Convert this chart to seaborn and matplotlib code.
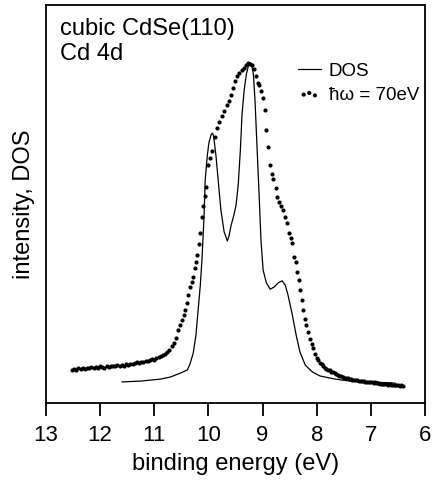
import matplotlib
matplotlib.use("Agg")
import numpy as np
import pandas as pd
import matplotlib.pyplot as plt
import seaborn as sns

# calculated density of states (solid line)
dos_energy = [11.60, 11.26, 10.89, 10.71, 10.52, 10.39, 10.34, 10.28, 10.23, 10.19,
              10.15, 10.12, 10.08, 10.06, 10.02, 9.99, 9.95, 9.93, 9.91, 9.89, 9.86, 9.82,
              9.77, 9.71, 9.65, 9.62, 9.58, 9.53, 9.49, 9.45, 9.41, 9.38,
              9.34, 9.30, 9.26, 9.23, 9.20, 9.17, 9.14, 9.10, 9.06, 9.03,
              8.99, 8.93, 8.86, 8.79, 8.71, 8.64, 8.58, 8.53, 8.45, 8.38,
              8.31, 8.21, 8.08, 7.94, 7.66, 7.38, 7.01, 6.55]
dos_value = [0.053, 0.055, 0.060, 0.065, 0.075, 0.083, 0.098, 0.126, 0.171, 0.234,
             0.296, 0.359, 0.472, 0.560, 0.623, 0.655, 0.674, 0.678, 0.674, 0.655, 0.620, 0.560,
             0.485, 0.430, 0.407, 0.420, 0.447, 0.472, 0.497, 0.548, 0.636, 0.724,
             0.786, 0.826, 0.848, 0.855, 0.848, 0.826, 0.761, 0.636, 0.510, 0.410,
             0.334, 0.302, 0.286, 0.291, 0.302, 0.307, 0.296, 0.271, 0.221, 0.171,
             0.128, 0.095, 0.078, 0.068, 0.060, 0.055, 0.053, 0.050]

# photoemission at 70 eV (dots): dense low-energy tail, peak region, dense high-energy tail
exp_left_energy = [12.52, 12.48, 12.44, 12.40, 12.36, 12.32, 12.28, 12.24, 12.20, 12.16,
                   12.12, 12.08, 12.04, 12.00, 11.96, 11.92, 11.88, 11.84, 11.80, 11.76,
                   11.72, 11.68, 11.64, 11.60, 11.56, 11.52, 11.48, 11.44, 11.40, 11.36,
                   11.32, 11.28, 11.24, 11.20, 11.16, 11.12, 11.08, 11.04, 11.00, 10.96,
                   10.92, 10.88, 10.84, 10.80, 10.76, 10.72, 10.68, 10.64, 10.60]
exp_left_value = [0.083, 0.086, 0.084, 0.087, 0.085, 0.088, 0.086, 0.089, 0.087, 0.090,
                  0.088, 0.091, 0.089, 0.092, 0.090, 0.089, 0.092, 0.091, 0.094, 0.092,
                  0.093, 0.095, 0.093, 0.096, 0.094, 0.097, 0.096, 0.099, 0.097, 0.100,
                  0.102, 0.100, 0.104, 0.103, 0.106, 0.105, 0.108, 0.110, 0.109, 0.113,
                  0.115, 0.118, 0.121, 0.124, 0.128, 0.134, 0.142, 0.152, 0.164]

exp_peak_energy = [10.56, 10.52, 10.49, 10.46, 10.43, 10.40, 10.37, 10.34, 10.31, 10.28,
                   10.25, 10.23, 10.21, 10.18, 10.15, 10.12, 10.10, 10.07, 10.04, 10.01,
                   9.97, 9.93, 9.88, 9.84, 9.80, 9.75, 9.71, 9.66, 9.62, 9.58,
                   9.55, 9.51, 9.47, 9.43, 9.38, 9.34, 9.30, 9.26, 9.23, 9.19,
                   9.16, 9.12, 9.08, 9.06, 9.03, 8.99, 8.96, 8.93, 8.90, 8.86,
                   8.83, 8.80, 8.76, 8.73, 8.70, 8.66, 8.62, 8.58, 8.55, 8.51,
                   8.48, 8.45, 8.42, 8.39, 8.36, 8.33, 8.30, 8.27, 8.25, 8.22,
                   8.19, 8.16, 8.12, 8.09, 8.06]
exp_peak_value = [0.183, 0.196, 0.209, 0.222, 0.234, 0.252, 0.272, 0.291, 0.305, 0.317,
                  0.339, 0.355, 0.372, 0.400, 0.427, 0.467, 0.495, 0.520, 0.543, 0.598,
                  0.615, 0.633, 0.668, 0.690, 0.706, 0.722, 0.734, 0.748, 0.759, 0.775,
                  0.792, 0.808, 0.822, 0.830, 0.837, 0.842, 0.849, 0.855, 0.852, 0.848,
                  0.838, 0.822, 0.805, 0.798, 0.785, 0.766, 0.735, 0.686, 0.643, 0.598,
                  0.575, 0.563, 0.540, 0.518, 0.505, 0.495, 0.485, 0.467, 0.452, 0.427,
                  0.415, 0.402, 0.367, 0.354, 0.330, 0.310, 0.284, 0.258, 0.234, 0.212,
                  0.195, 0.178, 0.160, 0.148, 0.138]

exp_right_energy = [8.03, 8.00, 7.97, 7.94, 7.91, 7.88, 7.85, 7.82, 7.79, 7.76,
                    7.73, 7.70, 7.67, 7.64, 7.61, 7.58, 7.55, 7.52, 7.49, 7.46,
                    7.43, 7.40, 7.37, 7.34, 7.31, 7.28, 7.25, 7.22, 7.19, 7.16,
                    7.13, 7.10, 7.07, 7.04, 7.01, 6.98, 6.95, 6.92, 6.89, 6.86,
                    6.83, 6.80, 6.77, 6.74, 6.71, 6.68, 6.65, 6.62, 6.59, 6.56,
                    6.53, 6.50, 6.47, 6.44, 6.41]
exp_right_value = [0.122, 0.113, 0.107, 0.101, 0.097, 0.093, 0.089, 0.086, 0.084, 0.082,
                   0.079, 0.077, 0.075, 0.072, 0.070, 0.068, 0.067, 0.065, 0.064, 0.062,
                   0.062, 0.060, 0.060, 0.058, 0.058, 0.057, 0.057, 0.056, 0.056, 0.055,
                   0.056, 0.054, 0.054, 0.053, 0.053, 0.052, 0.051, 0.052, 0.050, 0.050,
                   0.049, 0.049, 0.048, 0.047, 0.048, 0.046, 0.047, 0.045, 0.046, 0.044,
                   0.045, 0.044, 0.043, 0.044, 0.043]

energy_ticks = [13, 12, 11, 10, 9, 8, 7, 6]

sns.set_style("ticks")
plt.rcParams['font.family'] = ['Liberation Sans', 'DejaVu Sans']
plt.rcParams['text.color'] = 'black'
plt.rcParams['axes.labelcolor'] = 'black'

dos_df = pd.DataFrame({'energy': dos_energy, 'value': dos_value})
exp_df = pd.DataFrame({
    'energy': exp_left_energy + exp_peak_energy + exp_right_energy,
    'value': exp_left_value + exp_peak_value + exp_right_value,
})

fig = plt.figure(figsize=(4.32, 4.8), dpi=100)
ax = fig.add_axes([0.1065, 0.1604, 0.8773, 0.8292])

sns.lineplot(data=dos_df, x='energy', y='value', sort=False, color='black',
             linewidth=0.9, label='DOS', ax=ax)
sns.scatterplot(data=exp_df, x='energy', y='value', color='black', s=9,
                linewidth=0, label='\u0127\u03c9 = 70eV', ax=ax)

ax.set_xlim(13, 6)
ax.set_ylim(0, 1)
ax.set_xticks(energy_ticks)
ax.set_yticks([])
ax.set_xlabel("binding energy (eV)", fontsize=17, labelpad=5, color='black')
ax.set_ylabel("intensity, DOS", fontsize=17, labelpad=8, color='black')
ax.tick_params(axis='x', direction='out', length=9, width=1.3, labelsize=16, pad=7,
               colors='black', labelcolor='black')
for side in ['left', 'right', 'top', 'bottom']:
    ax.spines[side].set_visible(True)
    ax.spines[side].set_linewidth(1.3)
    ax.spines[side].set_color('black')

ax.text(0.037, 0.925, "cubic CdSe(110)", transform=ax.transAxes, fontsize=17,
        va='baseline', color='black')
ax.text(0.037, 0.862, "Cd 4d", transform=ax.transAxes, fontsize=17,
        va='baseline', color='black')

leg = ax.legend(loc='upper left', bbox_to_anchor=(0.665, 0.855), frameon=False, fontsize=13.5,
                handlelength=1.2, handletextpad=0.45, labelspacing=0.35, borderpad=0,
                borderaxespad=0, scatterpoints=3, markerscale=1.0)
for t in leg.get_texts():
    t.set_color('black')

fig.savefig("out.png", dpi=100)
